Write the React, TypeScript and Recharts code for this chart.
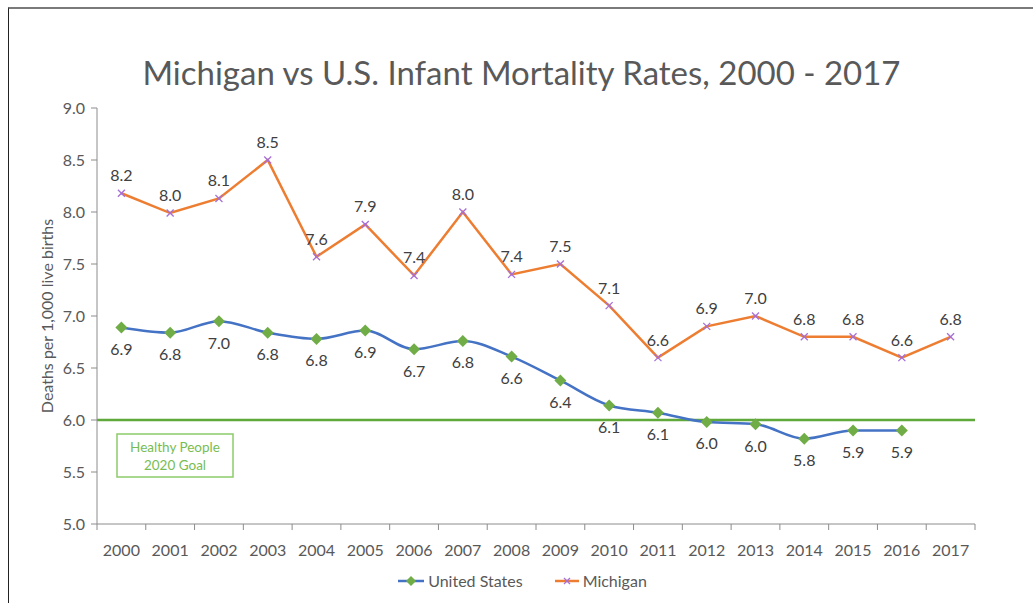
import React from 'react';
import {
  LineChart,
  Line,
  XAxis,
  YAxis,
  ReferenceLine,
  LabelList,
  Legend,
} from 'recharts';

const years = [
  '2000', '2001', '2002', '2003', '2004', '2005', '2006', '2007', '2008',
  '2009', '2010', '2011', '2012', '2013', '2014', '2015', '2016', '2017',
];
// US has no 2017 value in the picture
const usRates = [
  6.89, 6.84, 6.95, 6.84, 6.78, 6.86, 6.68, 6.76, 6.61,
  6.38, 6.14, 6.07, 5.98, 5.96, 5.82, 5.9, 5.9, null,
];
const miRates = [
  8.18, 7.99, 8.13, 8.5, 7.57, 7.88, 7.39, 8.0, 7.4,
  7.5, 7.1, 6.6, 6.9, 7.0, 6.8, 6.8, 6.6, 6.8,
];
const goalRate = 6.0;
const yTicks = [5.0, 5.5, 6.0, 6.5, 7.0, 7.5, 8.0, 8.5, 9.0];

const W = 1033;
const H = 603;
const PLOT_LEFT = 97;
const PLOT_RIGHT = 975;
const PLOT_TOP = 108;
const PLOT_BOTTOM = 524;
const BAND = (PLOT_RIGHT - PLOT_LEFT) / years.length;

const FONT = 'Lato, "Open Sans", sans-serif';
const AXIS = '#8c8c8c';
const TEXT = '#595959';
const LABEL = '#404040';
const US_LINE = '#4472C4';
const US_MARK = '#70AD47';
const MI_LINE = '#ED7D31';
const MI_MARK = '#A66FD8';
const GOAL = '#5FA83A';

const data = years.map((year, i) => ({ year, us: usRates[i], mi: miRates[i] }));

const fmt = (v: any) => (v == null ? '' : Number(v).toFixed(1));

const Diamond = (props: any) => {
  const { cx, cy } = props;
  if (cx == null || cy == null || props.value == null) return null;
  const r = 6;
  return (
    <polygon
      points={`${cx},${cy - r} ${cx + r},${cy} ${cx},${cy + r} ${cx - r},${cy}`}
      fill={US_MARK}
    />
  );
};

const Cross = (props: any) => {
  const { cx, cy } = props;
  if (cx == null || cy == null) return null;
  const r = 3.5;
  return (
    <g stroke={MI_MARK} strokeWidth={1.3}>
      <line x1={cx - r} y1={cy - r} x2={cx + r} y2={cy + r} />
      <line x1={cx - r} y1={cy + r} x2={cx + r} y2={cy - r} />
    </g>
  );
};

const XTick = (props: any) => {
  const { x, payload, index } = props;
  const half = BAND / 2;
  return (
    <g>
      <line x1={x - half} y1={PLOT_BOTTOM} x2={x - half} y2={PLOT_BOTTOM + 6} stroke={AXIS} />
      {index === years.length - 1 && (
        <line x1={x + half} y1={PLOT_BOTTOM} x2={x + half} y2={PLOT_BOTTOM + 6} stroke={AXIS} />
      )}
      <text x={x} y={PLOT_BOTTOM + 32} textAnchor="middle" fill={TEXT} fontSize={16} fontFamily={FONT}>
        {payload.value}
      </text>
    </g>
  );
};

const GoalLabel = (props: any) => {
  const { viewBox } = props;
  const x = viewBox.x + 20;
  const y = viewBox.y + 14;
  return (
    <g>
      <rect x={x} y={y} width={116} height={43} fill="#fff" stroke="#8CCB6A" strokeWidth={1.5} />
      <text x={x + 58} y={y + 18} textAnchor="middle" fill="#77BD52" fontSize={13.5} fontFamily={FONT}>
        Healthy People
      </text>
      <text x={x + 58} y={y + 36} textAnchor="middle" fill="#77BD52" fontSize={13.5} fontFamily={FONT}>
        2020 Goal
      </text>
    </g>
  );
};

const LegendContent = () => (
  <div
    style={{
      display: 'flex',
      justifyContent: 'center',
      gap: 32,
      fontFamily: FONT,
      fontSize: 16,
      color: TEXT,
      paddingLeft: 12,
    }}
  >
    <span style={{ display: 'flex', alignItems: 'center', gap: 4 }}>
      <svg width={26} height={14}>
        <line x1={0} y1={7} x2={26} y2={7} stroke={US_LINE} strokeWidth={2.5} />
        <polygon points="13,2 18,7 13,12 8,7" fill={US_MARK} />
      </svg>
      United States
    </span>
    <span style={{ display: 'flex', alignItems: 'center', gap: 4 }}>
      <svg width={24} height={14}>
        <line x1={0} y1={7} x2={24} y2={7} stroke={MI_LINE} strokeWidth={2.5} />
        <line x1={9} y1={4} x2={15} y2={10} stroke={MI_MARK} strokeWidth={1.2} />
        <line x1={9} y1={10} x2={15} y2={4} stroke={MI_MARK} strokeWidth={1.2} />
      </svg>
      Michigan
    </span>
  </div>
);

export default function App() {
  return (
    <div style={{ position: 'absolute', left: 0, top: 0, width: W, height: H, background: '#fff' }}>
      <div
        style={{
          position: 'absolute',
          left: 8,
          top: 7,
          right: 0,
          bottom: 0,
          borderTop: '2px solid #7a7a7a',
          borderLeft: '1px solid #222',
        }}
      />
      <div
        style={{
          position: 'absolute',
          left: 0,
          width: W,
          top: 52,
          textAlign: 'center',
          fontFamily: FONT,
          fontSize: 33,
          color: TEXT,
          paddingLeft: 10,
          boxSizing: 'border-box',
        }}
      >
        Michigan vs U.S. Infant Mortality Rates, 2000 - 2017
      </div>
      <div style={{ position: 'absolute', left: 0, top: 0 }}>
        <LineChart
          width={W}
          height={H}
          data={data}
          margin={{ top: PLOT_TOP, right: W - PLOT_RIGHT, bottom: H - PLOT_BOTTOM - 30, left: PLOT_LEFT - 60 }}
        >
          <XAxis
            dataKey="year"
            stroke={AXIS}
            tickLine={false}
            tick={<XTick />}
            interval={0}
            height={30}
            padding={{ left: BAND / 2, right: BAND / 2 }}
          />
          <YAxis
            domain={[5, 9]}
            ticks={yTicks}
            width={60}
            stroke={AXIS}
            tickSize={6}
            tickMargin={6}
            tickFormatter={(v: number) => v.toFixed(1)}
            tick={{ fill: TEXT, fontSize: 16, fontFamily: FONT }}
            label={{
              value: 'Deaths per 1,000 live births',
              angle: -90,
              position: 'insideLeft',
              offset: 10,
              style: { textAnchor: 'middle', fill: TEXT, fontSize: 16, fontFamily: FONT },
            }}
          />
          <ReferenceLine y={goalRate} stroke={GOAL} strokeWidth={2.5} label={<GoalLabel />} />
          <Line
            dataKey="us"
            type="monotone"
            stroke={US_LINE}
            strokeWidth={2.5}
            dot={<Diamond />}
            activeDot={false}
            isAnimationActive={false}
            connectNulls={false}
          >
            <LabelList
              dataKey="us"
              position="bottom"
              offset={16}
              formatter={fmt}
              fill={LABEL}
              fontSize={16}
              fontFamily={FONT}
            />
          </Line>
          <Line
            dataKey="mi"
            type="linear"
            stroke={MI_LINE}
            strokeWidth={2.5}
            dot={<Cross />}
            activeDot={false}
            isAnimationActive={false}
          >
            <LabelList
              dataKey="mi"
              position="top"
              offset={12}
              formatter={fmt}
              fill={LABEL}
              fontSize={16}
              fontFamily={FONT}
            />
          </Line>
          <Legend
            verticalAlign="middle"
            layout="horizontal"
            content={<LegendContent />}
            wrapperStyle={{ top: 571, left: 0, width: W }}
          />
        </LineChart>
      </div>
    </div>
  );
}
